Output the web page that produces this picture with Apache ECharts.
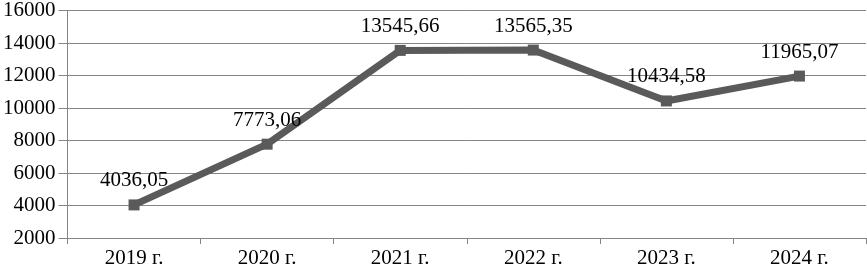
<!DOCTYPE html>
<html>
<head>
<meta charset="utf-8">
<script src="https://cdn.jsdelivr.net/npm/echarts@6/dist/echarts.min.js"></script>
<style>
html,body{margin:0;padding:0;background:#fff;}
#chart{width:867px;height:271px;}
</style>
</head>
<body>
<div id="chart"></div>
<script>
const categories = ['2019 г.', '2020 г.', '2021 г.', '2022 г.', '2023 г.', '2024 г.'];
const values = [4036.05, 7773.06, 13545.66, 13565.35, 10434.58, 11965.07];
const valueLabels = ['4036,05', '7773,06', '13545,66', '13565,35', '10434,58', '11965,07'];

const font = '"Liberation Serif", "Times New Roman", serif';
const chart = echarts.init(document.getElementById('chart'));
chart.setOption({
  animation: false,
  backgroundColor: '#ffffff',
  grid: { left: 67, right: 1, top: 7, bottom: 33, containLabel: false },
  xAxis: {
    type: 'category',
    data: categories,
    boundaryGap: true,
    axisLine: { show: true, lineStyle: { color: '#858585', width: 1 } },
    axisTick: { show: true, length: 6, alignWithLabel: false, lineStyle: { color: '#858585' } },
    axisLabel: { color: '#000', fontFamily: font, fontSize: 21, margin: 10 }
  },
  yAxis: {
    type: 'value',
    min: 2000, max: 16000, interval: 2000,
    axisLine: { show: true, lineStyle: { color: '#858585', width: 1 } },
    axisTick: { show: true, length: 9, lineStyle: { color: '#858585' } },
    splitLine: { show: true, lineStyle: { color: '#858585', width: 1 } },
    axisLabel: { color: '#000', fontFamily: font, fontSize: 21, margin: 12, formatter: v => String(v) }
  },
  series: [{
    type: 'line',
    data: values,
    symbol: 'rect',
    symbolSize: 11,
    lineStyle: { color: '#5a5a5a', width: 7 },
    itemStyle: { color: '#5a5a5a' },
    label: {
      show: true, position: 'top', distance: 8,
      color: '#000', fontFamily: font, fontSize: 21,
      formatter: p => valueLabels[p.dataIndex]
    }
  }]
});
</script>
</body>
</html>
